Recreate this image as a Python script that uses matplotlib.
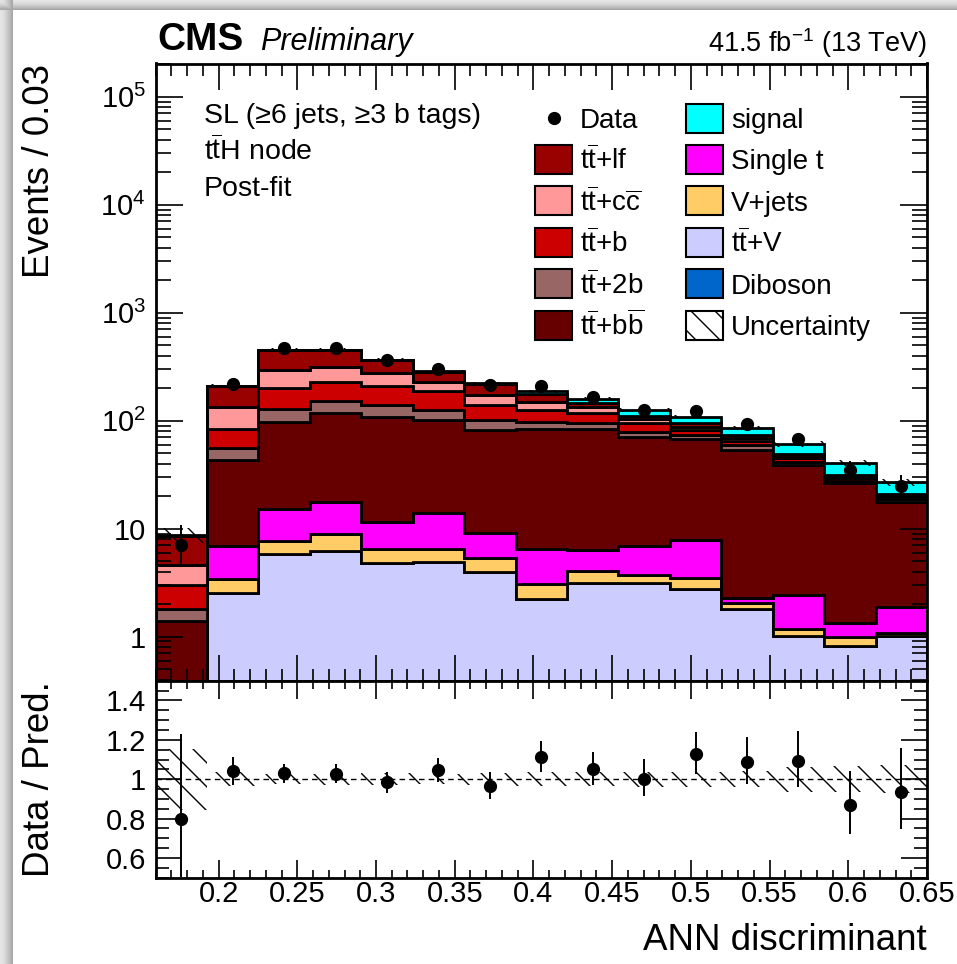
import numpy as np
import matplotlib
matplotlib.use('Agg')
import matplotlib.pyplot as plt
from matplotlib.collections import LineCollection
from matplotlib.lines import Line2D
from matplotlib.patches import PathPatch, Rectangle
from matplotlib.path import Path
from matplotlib.ticker import FuncFormatter, LogLocator, MultipleLocator, NullFormatter

plt.rcParams['font.family'] = ['Liberation Sans', 'DejaVu Sans']
plt.rcParams['mathtext.fontset'] = 'custom'
plt.rcParams['mathtext.rm'] = 'Liberation Sans'
plt.rcParams['mathtext.it'] = 'Liberation Sans:italic'
plt.rcParams['mathtext.bf'] = 'Liberation Sans:bold'

W_PX, H_PX = 957, 964

# ANN output binning (15 bins)
bin_edges = np.linspace(0.16, 0.65, 16)

# observed events
data_counts = np.array([7, 219, 468, 466, 361, 298, 214, 207, 167, 126, 123, 93, 67, 35, 25])

# post-fit yields per process
diboson = [0.01, 0.05, 0.08, 0.08, 0.06, 0.06, 0.05, 0.04, 0.04, 0.03, 0.03, 0.02, 0.02, 0.01, 0.01]
ttv = [0.20, 2.48, 5.71, 6.12, 4.71, 4.79, 3.95, 2.19, 3.12, 3.12, 2.75, 1.77, 1.00, 0.81, 1.00]
vjets = [0.03, 0.87, 1.88, 2.75, 1.64, 1.56, 1.37, 0.82, 0.88, 0.53, 0.73, 0.27, 0.15, 0.16, 0.07]
single_t = [0.08, 3.46, 7.51, 8.63, 5.05, 7.55, 3.74, 3.43, 2.35, 3.16, 4.37, 0.23, 1.28, 0.34, 0.80]
ttbb = [1.07, 36.4, 82.9, 99.5, 97.6, 87.5, 72.9, 76.8, 76.7, 64.2, 60.0, 51.3, 36.5, 25.0, 15.9]
tt2b = [0.39, 12.3, 29.7, 36.0, 30.6, 24.2, 19.4, 14.8, 11.6, 8.0, 6.0, 6.0, 2.8, 1.5, 0.9]
ttb = [1.24, 27.7, 71.8, 76.6, 71.4, 60.4, 38.2, 27.6, 22.4, 15.6, 8.2, 5.7, 3.2, 1.5, 0.9]
ttcc = [1.60, 49.8, 94.5, 86.4, 67.0, 43.6, 33.4, 24.4, 16.0, 8.4, 6.0, 3.4, 0.9, 0.8, 0.5]
ttlf = [3.99, 77.0, 159.5, 136.0, 87.0, 51.4, 43.0, 26.6, 14.0, 8.0, 7.7, 5.1, 3.1, 1.3, 0.8]
signal = [0.15, 0.6, 1.2, 1.5, 2.0, 4.0, 6.0, 9.4, 12.0, 14.6, 13.3, 11.7, 12.3, 8.9, 5.9]

# relative uncertainty of the total prediction
unc_rel = [0.155, 0.035, 0.026, 0.027, 0.030, 0.026, 0.030, 0.035, 0.036, 0.038, 0.038, 0.040, 0.063, 0.066, 0.070]

TT = r'$\mathrm{t}\overline{\mathrm{t}}$'
lab_ttlf = TT + '+lf'
lab_ttcc = TT + r'+c$\overline{\mathrm{c}}$'
lab_ttb = TT + '+b'
lab_tt2b = TT + '+2b'
lab_ttbb = TT + r'+b$\overline{\mathrm{b}}$'
lab_ttv = TT + '+V'

# stacking order, bottom to top
stack = [
    ('Diboson', diboson, '#0066cc'),
    (lab_ttv, ttv, '#ccccff'),
    ('V+jets', vjets, '#ffcc66'),
    ('Single t', single_t, '#ff00ff'),
    (lab_ttbb, ttbb, '#660000'),
    (lab_tt2b, tt2b, '#996666'),
    (lab_ttb, ttb, '#cc0000'),
    (lab_ttcc, ttcc, '#ff9999'),
    (lab_ttlf, ttlf, '#990000'),
    ('signal', signal, '#00ffff'),
]
colors = {label: color for label, _, color in stack}

centers = 0.5 * (bin_edges[1:] + bin_edges[:-1])
total = np.sum([np.asarray(v) for _, v, _ in stack], axis=0)
unc = np.asarray(unc_rel)

# Poisson intervals (Gehrels approximation)
n = data_counts.astype(float)
n_lo = n * (1 - 1 / (9 * n) - 1 / (3 * np.sqrt(n))) ** 3
n_hi = n + 1 + np.sqrt(n + 0.75)


def px_box(left, top, right, bottom):
    return [left / W_PX, 1 - bottom / H_PX, (right - left) / W_PX, (bottom - top) / H_PX]


def fy(y):
    return 1 - y / H_PX


def band_path(edges, lo, hi):
    xs = np.repeat(edges, 2)[1:-1]
    verts = list(zip(xs, np.repeat(hi, 2))) + list(zip(xs[::-1], np.repeat(lo, 2)[::-1]))
    verts.append(verts[0])
    return Path(verts, closed=True)


def hatch_lines(clip_patch, spacing=24, lw=1.0, zorder=2):
    # sparse 45 degree hatching laid out in figure pixels
    segs = [[(p / W_PX, 1.0), ((p + H_PX) / W_PX, 0.0)]
            for p in np.arange(-H_PX, W_PX + spacing, spacing)]
    lc = LineCollection(segs, colors='black', linewidths=lw,
                        transform=fig.transFigure, zorder=zorder)
    lc.set_clip_path(clip_patch)
    return lc


fig = plt.figure(figsize=(W_PX / 100, H_PX / 100), dpi=100)

# page shadow along the left and top edges
shade = np.ones((H_PX, W_PX))
xs = np.arange(13)
shade[:, :13] = np.minimum(shade[:, :13], 0.9 - 0.25 * (xs / 12) ** 1.5)
ys = np.arange(10)
shade[:10, :] = np.minimum(shade[:10, :], (0.9 - 0.25 * (ys / 9) ** 1.5)[:, None])
bg = fig.add_axes([0, 0, 1, 1], zorder=-5)
bg.imshow(shade, cmap='gray', vmin=0, vmax=1, aspect='auto', interpolation='nearest')
bg.axis('off')

ax = fig.add_axes(px_box(155.6, 63.5, 927, 680.7))
axr = fig.add_axes(px_box(155.6, 680.7, 927, 877.7), sharex=ax)

# stacked backgrounds + signal
lower = np.full(len(centers), 1e-3)
for label, vals, color in stack:
    upper = lower + np.asarray(vals)
    ax.stairs(upper, bin_edges, baseline=lower, fill=True, facecolor=color,
              edgecolor='black', linewidth=2.0, zorder=1)
    lower = upper

# uncertainty bands
band_main = PathPatch(band_path(bin_edges, total * (1 - unc), total * (1 + unc)),
                      transform=ax.transData, facecolor='none', edgecolor='none')
ax.add_patch(band_main)
ax.add_collection(hatch_lines(band_main), autolim=False)

band_ratio = PathPatch(band_path(bin_edges, 1 - unc, 1 + unc),
                       transform=axr.transData, facecolor='none', edgecolor='none')
axr.add_patch(band_ratio)
axr.add_collection(hatch_lines(band_ratio), autolim=False)

# data
ax.errorbar(centers, n, yerr=[n - n_lo, n_hi - n], fmt='o', color='black',
            ms=8.5, elinewidth=1.4, capsize=0, zorder=4)

ratio = n / total
axr.axhline(1.0, color='black', lw=1.0, ls=(0, (4, 3)), zorder=1.5)
axr.errorbar(centers, ratio, yerr=[(n - n_lo) / total, (n_hi - n) / total], fmt='o',
             color='black', ms=8.5, elinewidth=1.4, capsize=0, zorder=4)

# axes ranges and ticks
ax.set_xlim(bin_edges[0], bin_edges[-1])
ax.set_yscale('log')
ax.set_ylim(0.39, 2.03e5)
axr.set_ylim(0.5, 1.5)


def log_label(v, pos):
    if v < 5:
        return '1'
    if v < 50:
        return '10'
    return r'$10^{%d}$' % round(np.log10(v))


ax.yaxis.set_major_locator(LogLocator(base=10, numticks=12))
ax.yaxis.set_minor_locator(LogLocator(base=10, subs=np.arange(2, 10) * 1.0, numticks=12))
ax.yaxis.set_major_formatter(FuncFormatter(log_label))
ax.yaxis.set_minor_formatter(NullFormatter())

for a in (ax, axr):
    a.xaxis.set_major_locator(MultipleLocator(0.05))
    a.xaxis.set_minor_locator(MultipleLocator(0.01))
    a.tick_params(which='both', direction='in', top=True, right=True, width=1.2,
                  labelsize=21, pad=7)
    for s in a.spines.values():
        s.set_linewidth(2.0)
    a.set_axisbelow(False)

axr.yaxis.set_major_locator(MultipleLocator(0.2))
axr.yaxis.set_minor_locator(MultipleLocator(0.05))
axr.yaxis.set_major_formatter(FuncFormatter(lambda v, p: f'{v:g}'))
axr.xaxis.set_major_formatter(FuncFormatter(lambda v, p: f'{v:g}'))

ax.tick_params(labelbottom=False)
ax.tick_params(axis='x', which='major', length=19)
ax.tick_params(axis='x', which='minor', length=8.6)
ax.tick_params(axis='y', which='major', length=19.5)
ax.tick_params(axis='y', which='minor', length=10.5)
axr.tick_params(axis='x', which='major', length=13, pad=1.5)
axr.tick_params(axis='x', which='minor', length=5.8)
axr.tick_params(axis='y', which='major', length=19)
axr.tick_params(axis='y', which='minor', length=9.5)

# titles and labels
fig.text(40 / W_PX, fy(64), 'Events / 0.03', rotation=90, ha='center', va='top', fontsize=26.5)
fig.text(40 / W_PX, fy(779), 'Data / Pred.', rotation=90, ha='center', va='center', fontsize=26.5)
fig.text(927 / W_PX, fy(950), 'ANN discriminant', ha='right', va='baseline', fontsize=26.5)

fig.text(157 / W_PX, fy(50), 'CMS', fontsize=28, fontweight='bold', va='baseline')
fig.text(260 / W_PX, fy(50), 'Preliminary', fontsize=22, fontstyle='italic', va='baseline')
fig.text(927 / W_PX, fy(52), r'41.5 fb$^{-1}$ (13 TeV)', fontsize=19.5, ha='right', va='baseline')

info = ['SL (≥6 jets, ≥3 b tags)', TT + 'H node', 'Post-fit']
for i, line in enumerate(info):
    fig.text(204 / W_PX, fy(123 + 36.5 * i), line, fontsize=20.5, va='baseline')

# legend, two columns
left_col = ['Data', lab_ttlf, lab_ttcc, lab_ttb, lab_tt2b, lab_ttbb]
right_col = ['signal', 'Single t', 'V+jets', lab_ttv, 'Diboson', 'Uncertainty']
for box_left, entries in ((535, left_col), (686, right_col)):
    for row, label in enumerate(entries):
        yc = 118 + 41.4 * row
        if label == 'Data':
            fig.add_artist(Line2D([(box_left + 18.5) / W_PX], [fy(yc)], marker='o', ms=8.5,
                                  color='black', ls='none', transform=fig.transFigure))
        else:
            face = 'white' if label == 'Uncertainty' else colors[label]
            rect = Rectangle((box_left / W_PX, fy(yc + 14.5)), 37 / W_PX, 29 / H_PX,
                             transform=fig.transFigure, facecolor=face,
                             edgecolor='black', linewidth=1.5)
            fig.add_artist(rect)
            if label == 'Uncertainty':
                fig.add_artist(hatch_lines(rect, zorder=3))
        fig.text((box_left + 45) / W_PX, fy(yc + 10), label, fontsize=20, va='baseline')

fig.savefig('out.png', dpi=100)
